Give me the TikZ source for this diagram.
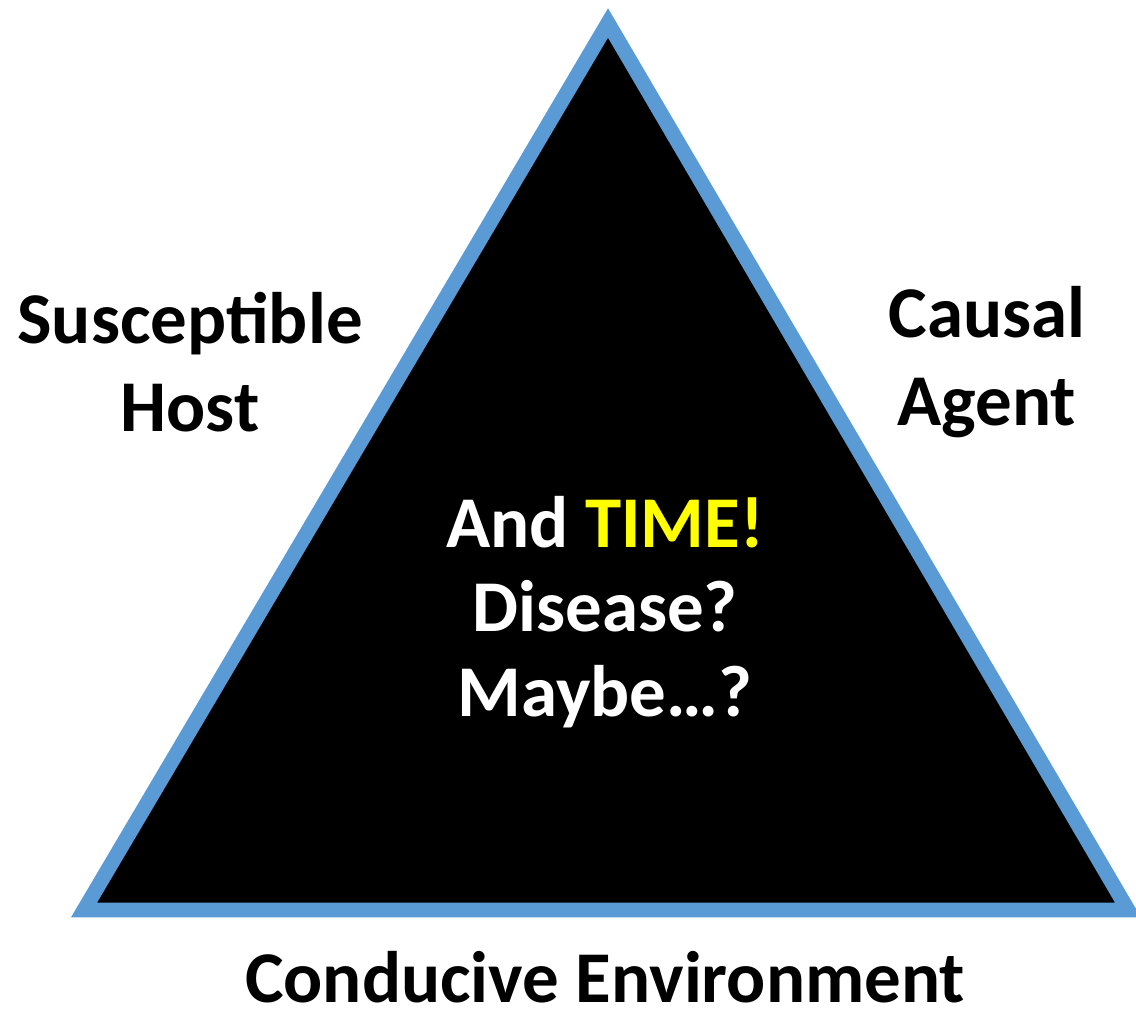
\documentclass[tikz,border=0pt]{standalone}
\usepackage{fontspec}
\setmainfont{Carlito}
\definecolor{triblue}{RGB}{91,155,213}
\definecolor{timeyel}{RGB}{255,255,0}
\usetikzlibrary{positioning}
\tikzset{
  lbl/.style={font=\fontsize{41.5}{50}\selectfont\bfseries,align=center,text=black},
  inlbl/.style={font=\fontsize{41.5}{48}\selectfont\bfseries,align=center,text=white},
}
\begin{document}
\begin{tikzpicture}[
  tri/.style={draw=triblue, fill=black, line width=8.5pt, miter limit=10}
]
  \useasboundingbox (0,0) rectangle (22.72,20.24);

  % triangle corners
  \coordinate (apex) at (12.16,19.78);
  \coordinate (bl)   at (1.68,2.04);
  \coordinate (br)   at (22.56,2.04);
  \draw[tri] (apex) -- (bl) -- (br) -- cycle;

  \node[lbl] (host)  at (3.80,13.0) {Susceptible\\Host};
  \node[lbl] (agent) at (19.74,13.0) {Causal\\Agent};
  \node[lbl, inner sep=0pt] (env) at (12.10,0.70) {Conducive Environment};

  \node[inlbl] (mid) at (12.10,8.0)
    {And {\color{timeyel}TIME!}\\Disease?\\Maybe\ldots?};
\end{tikzpicture}
\end{document}
